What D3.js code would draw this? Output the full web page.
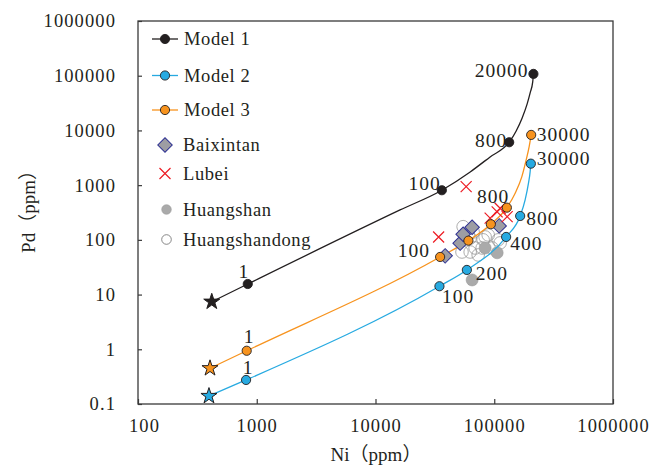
<!DOCTYPE html>
<html lang="en">
  <head>
    <meta charset="UTF-8" />
    <title>Ni vs Pd model curves</title>
    <script src="https://d3js.org/d3.v7.min.js"></script>
    <style>
      body { margin: 0; background: #fff; }
      text { font-family: "Liberation Serif", "Times New Roman", "Noto Sans CJK SC", serif; fill: #231f20; }
    </style>
  </head>
  <body>
    <div id="chart"></div>
    <script>
      // ---- data ----
      const xTicks = [100, 1000, 10000, 100000, 1000000];
      const yTicks = [0.1, 1, 10, 100, 1000, 10000, 100000, 1000000];

      // model markers: [Ni, Pd, R label]
      const model1 = [[840, 15.6, "1"], [36200, 807, "100"], [133600, 6085, "800"], [213800, 108000, "20000"]];
      const model2 = [[813, 0.275, "1"], [34550, 14.2, "100"], [58800, 28.2, "200"], [125900, 113, "400"], [165300, 273, "800"], [203300, 2470, "30000"]];
      const model3 = [[823, 0.94, "1"], [35000, 48.7, "100"], [60600, 96.7, ""], [93600, 193, ""], [127700, 388, "800"], [204600, 8280, "30000"]];

      // starting compositions (stars)
      const start1 = [418, 7.4];
      const start2 = [396, 0.14];
      const start3 = [404, 0.45];

      // traced model curves [Ni, Pd]
      const curve1 = [[418, 7.4], [840, 15.6], [16100, 352], [36200, 807], [62700, 1742], [92300, 3280], [133600, 6085], [153000, 9790], [171800, 16900], [189300, 30500], [200600, 48500], [210800, 77000], [213800, 108000]];
      const curve2 = [[396, 0.14], [813, 0.275], [34550, 14.2], [58800, 28.2], [125900, 113], [165300, 273], [182000, 536], [194200, 1084], [200600, 1766], [203300, 2470]];
      const curve3 = [[404, 0.45], [823, 0.94], [35000, 48.7], [60600, 96.7], [93600, 193], [127700, 388], [150000, 711], [170800, 1430], [185700, 2890], [196800, 5060], [204600, 8280]];

      // samples
      const baixintan = [[38600, 51], [51600, 87], [54700, 127], [65100, 170], [110000, 180]];
      const lubei = [[34000, 113], [58000, 939], [92300, 250], [105800, 324], [112100, 378], [128500, 265]];
      const huangshan = [[83800, 71], [105800, 58], [65100, 18.5]];
      const huangshandong = [[54700, 174], [60300, 123], [62700, 108], [66400, 139], [69000, 71], [62700, 60], [53500, 60], [73200, 53], [79100, 71], [80600, 100], [88900, 123], [83800, 113], [96000, 71], [107900, 100], [112100, 88]];

      // ---- layout ----
      const W = 661, H = 465;
      const plot = { left: 138, right: 613, top: 21, bottom: 404 };
      const dark = "#231f20", blue = "#27aae1", orange = "#f7931e";
      const red = "#ed1c24", navy = "#2e3192";

      const svg = d3.select("#chart").append("svg").attr("width", W).attr("height", H);

      const x = d3.scaleLog().domain([100, 1000000]).range([plot.left, plot.right]);
      const y = d3.scaleLog().domain([0.1, 1000000]).range([plot.bottom, plot.top]);

      const fmt = (d) => (d < 1 ? String(d) : d3.format("d")(d));

      // axes
      const gx = svg.append("g")
        .attr("transform", `translate(0,${plot.bottom})`)
        .call(d3.axisBottom(x).tickValues(xTicks).tickSize(-5).tickPadding(15).tickFormat(fmt));
      const gy = svg.append("g")
        .attr("transform", `translate(${plot.left},0)`)
        .call(d3.axisLeft(y).tickValues(yTicks).tickSize(-4).tickPadding(22).tickFormat(fmt));
      [gx, gy].forEach((g) => {
        g.select(".domain").remove();
        g.selectAll(".tick line").attr("stroke", "#3a3a3a").attr("stroke-width", 1.2);
        g.selectAll(".tick text")
          .attr("fill", dark)
          .style("font-size", "18.5px")
          .style("letter-spacing", "1.1px");
      });
      gx.selectAll(".tick text").filter((d) => d === 100).attr("dx", 6);

      svg.append("rect")
        .attr("x", plot.left).attr("y", plot.top)
        .attr("width", plot.right - plot.left).attr("height", plot.bottom - plot.top)
        .attr("fill", "none").attr("stroke", "#3a3a3a").attr("stroke-width", 1.3);

      // axis titles
      svg.append("text")
        .attr("x", 376).attr("y", 461)
        .attr("text-anchor", "middle")
        .style("font-size", "19px")
        .text("Ni（ppm）");
      svg.append("text")
        .attr("transform", "translate(35,207) rotate(-90)")
        .attr("text-anchor", "middle")
        .style("font-size", "19px")
        .text("Pd（ppm）");

      const px = (d) => x(d[0]);
      const py = (d) => y(d[1]);

      // open circles (Huangshandong)
      svg.append("g").selectAll("circle").data(huangshandong).join("circle")
        .attr("cx", px).attr("cy", py).attr("r", 6.3)
        .attr("fill", "none").attr("stroke", "#8a8a8a").attr("stroke-width", 0.7);

      // Huangshan
      svg.append("g").selectAll("circle").data(huangshan).join("circle")
        .attr("cx", px).attr("cy", py).attr("r", 6)
        .attr("fill", "#aaaaaa").attr("stroke", "#9a9a9a").attr("stroke-width", 0.6);

      // curves
      const line = d3.line().x(px).y(py).curve(d3.curveMonotoneX);
      [[curve1, dark], [curve2, blue], [curve3, orange]].forEach(([c, col]) => {
        svg.append("path").datum(c).attr("d", line)
          .attr("fill", "none").attr("stroke", col).attr("stroke-width", 1.3);
      });

      // diamonds (Baixintan)
      const diamond = d3.symbol(d3.symbolSquare, 105)();
      svg.append("g").selectAll("path").data(baixintan).join("path")
        .attr("d", diamond)
        .attr("transform", (d) => `translate(${px(d)},${py(d)}) rotate(45)`)
        .attr("fill", "#9d9da3").attr("stroke", navy).attr("stroke-width", 1);

      // crosses (Lubei)
      const cross = "M-5.5,-5.5L5.5,5.5M-5.5,5.5L5.5,-5.5";
      svg.append("g").selectAll("path").data(lubei).join("path")
        .attr("d", cross)
        .attr("transform", (d) => `translate(${px(d)},${py(d)})`)
        .attr("fill", "none").attr("stroke", red).attr("stroke-width", 1.2);

      // model markers
      const star = d3.symbol(d3.symbolStar, 80)();
      [[model1, start1, dark], [model2, start2, blue], [model3, start3, orange]].forEach(([m, s, col]) => {
        svg.append("g").selectAll("circle").data(m).join("circle")
          .attr("cx", px).attr("cy", py).attr("r", 4.6)
          .attr("fill", col).attr("stroke", dark).attr("stroke-width", 0.9);
        svg.append("path").attr("d", star)
          .attr("transform", `translate(${x(s[0])},${y(s[1])})`)
          .attr("fill", col).attr("stroke", dark).attr("stroke-width", 1);
      });

      // point labels: [dx, dy, anchor] per marker
      const labelPlace = {
        m1: [[-4, -6, "middle"], [-1, 0, "end"], [-2, 4.5, "end"], [-5, 2.7, "end"]],
        m2: [[2, -5.5, "middle"], [2.5, 17, "start"], [9, 10, "start"], [4, 13, "start"], [6, 9, "start"], [6, 1.5, "start"]],
        m3: [[2.5, -7.5, "middle"], [-10, 0, "end"], [0, 0, "end"], [0, 0, "end"], [2.5, -4.4, "end"], [5.7, 5.7, "start"]],
      };
      [[model1, "m1"], [model2, "m2"], [model3, "m3"]].forEach(([m, key]) => {
        m.forEach((d, i) => {
          if (!d[2]) return;
          const [dx, dy, anchor] = labelPlace[key][i];
          svg.append("text")
            .attr("x", px(d) + dx).attr("y", py(d) + dy)
            .attr("text-anchor", anchor)
            .style("font-size", "19.5px")
            .style("letter-spacing", "1px")
            .text(d[2]);
        });
      });

      // legend
      const legend = svg.append("g");
      const legendItems = ["Model 1", "Model 2", "Model 3", "Baixintan", "Lubei", "Huangshan", "Huangshandong"];
      const legendY = [39, 75.5, 110, 145, 173.5, 209.5, 239.5];
      const lx = 165;
      [dark, blue, orange].forEach((col, i) => {
        legend.append("line")
          .attr("x1", lx - 13).attr("x2", lx + 13)
          .attr("y1", legendY[i]).attr("y2", legendY[i])
          .attr("stroke", col).attr("stroke-width", 1.3);
        legend.append("circle")
          .attr("cx", lx).attr("cy", legendY[i]).attr("r", 4.6)
          .attr("fill", col).attr("stroke", dark).attr("stroke-width", 0.9);
      });
      legend.append("path").attr("d", diamond)
        .attr("transform", `translate(${lx},${legendY[3]}) rotate(45)`)
        .attr("fill", "#9d9da3").attr("stroke", navy).attr("stroke-width", 1);
      legend.append("path").attr("d", cross)
        .attr("transform", `translate(${lx},${legendY[4]})`)
        .attr("fill", "none").attr("stroke", red).attr("stroke-width", 1.2);
      legend.append("circle").attr("cx", lx + 1.5).attr("cy", legendY[5]).attr("r", 4.8)
        .attr("fill", "#aaaaaa").attr("stroke", "#9a9a9a").attr("stroke-width", 0.6);
      legend.append("circle").attr("cx", lx + 1.5).attr("cy", legendY[6]).attr("r", 4.8)
        .attr("fill", "none").attr("stroke", "#6a6a6a").attr("stroke-width", 0.8);
      legendItems.forEach((t, i) => {
        legend.append("text")
          .attr("x", i < 3 ? 184 : 183).attr("y", legendY[i] + 6.3)
          .style("font-size", "18.5px")
          .style("letter-spacing", "0.6px")
          .text(t);
      });
    </script>
  </body>
</html>
